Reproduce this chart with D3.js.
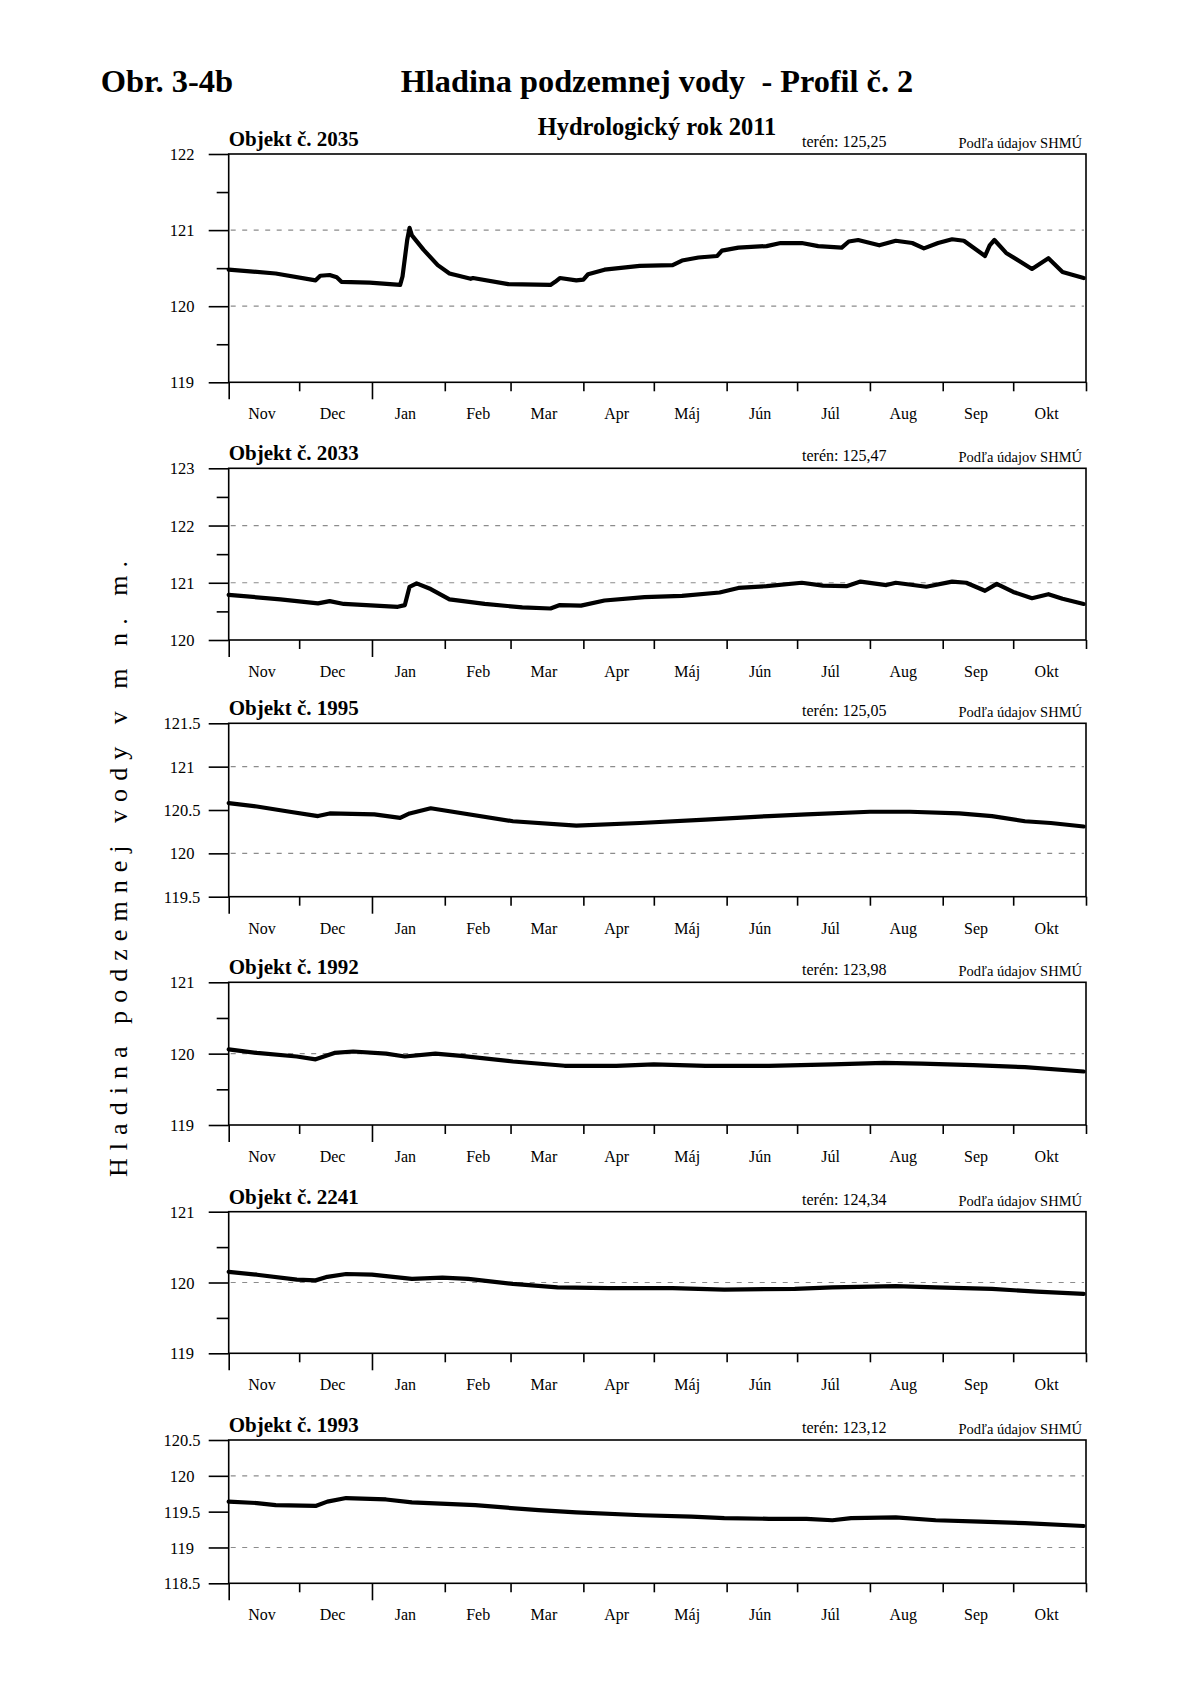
<!DOCTYPE html>
<html><head><meta charset="utf-8">
<script src="https://cdn.jsdelivr.net/npm/d3@7"></script>
<style>
body{margin:0;background:#fff}
svg text{font-family:"Liberation Serif","Times New Roman",serif;fill:#000}
</style>
</head><body>
<svg id="chart" width="1200" height="1698"></svg>
<script>
// ---------------- DATA ----------------
const monthLabels = ["Nov","Dec","Jan","Feb","Mar","Apr","Máj","Jún","Júl","Aug","Sep","Okt"];
const objectIds = ["2035","2033","1995","1992","2241","1993"];
const terenValues = ["125,25","125,47","125,05","123,98","124,34","123,12"];

const obj2035 = [
["2010-11-01",120.48],["2010-11-21",120.43],["2010-12-08",120.34],["2010-12-10",120.40],["2010-12-14",120.41],
["2010-12-17",120.38],["2010-12-19",120.32],["2010-12-31",120.31],["2011-01-13",120.28],["2011-01-14",120.39],
["2011-01-16",120.87],["2011-01-17",121.03],["2011-01-18",120.93],["2011-01-23",120.74],["2011-01-29",120.54],
["2011-02-03",120.43],["2011-02-12",120.36],["2011-02-13",120.37],["2011-02-28",120.29],["2011-03-18",120.28],
["2011-03-20",120.32],["2011-03-22",120.37],["2011-03-29",120.34],["2011-04-01",120.35],["2011-04-03",120.42],
["2011-04-10",120.48],["2011-04-25",120.53],["2011-05-09",120.54],["2011-05-13",120.60],["2011-05-20",120.64],
["2011-05-28",120.66],["2011-05-30",120.73],["2011-06-06",120.77],["2011-06-18",120.79],["2011-06-24",120.83],
["2011-07-03",120.83],["2011-07-10",120.79],["2011-07-20",120.77],["2011-07-23",120.85],["2011-07-27",120.87],
["2011-08-05",120.80],["2011-08-12",120.86],["2011-08-19",120.83],["2011-08-24",120.76],["2011-08-30",120.83],
["2011-09-05",120.88],["2011-09-10",120.86],["2011-09-19",120.66],["2011-09-21",120.80],["2011-09-23",120.87],
["2011-09-28",120.70],["2011-10-09",120.49],["2011-10-16",120.63],["2011-10-22",120.45],["2011-10-31",120.37]
];
const obj2033 = [
["2010-11-01",120.79],["2010-11-23",120.71],["2010-12-09",120.64],["2010-12-14",120.68],["2010-12-20",120.63],
["2011-01-12",120.58],["2011-01-15",120.61],["2011-01-17",120.93],["2011-01-20",120.99],["2011-01-26",120.89],
["2011-02-03",120.71],["2011-02-18",120.63],["2011-03-06",120.57],["2011-03-18",120.55],["2011-03-22",120.61],
["2011-03-31",120.60],["2011-04-10",120.69],["2011-04-27",120.75],["2011-05-13",120.77],["2011-05-29",120.83],
["2011-06-06",120.91],["2011-06-18",120.94],["2011-07-03",121.00],["2011-07-12",120.95],["2011-07-22",120.94],
["2011-07-28",121.02],["2011-08-08",120.96],["2011-08-12",121.00],["2011-08-25",120.93],["2011-09-05",121.02],
["2011-09-11",121.00],["2011-09-19",120.86],["2011-09-24",120.98],["2011-10-01",120.84],["2011-10-09",120.73],
["2011-10-16",120.80],["2011-10-22",120.72],["2011-10-31",120.63]
];
const obj1995 = [
["2010-11-01",120.58],["2010-11-13",120.54],["2010-11-27",120.48],["2010-12-09",120.43],["2010-12-14",120.46],
["2011-01-02",120.45],["2011-01-13",120.41],["2011-01-17",120.46],["2011-01-26",120.52],["2011-03-02",120.37],
["2011-03-29",120.32],["2011-04-25",120.35],["2011-05-23",120.39],["2011-06-19",120.43],["2011-07-05",120.45],
["2011-08-01",120.48],["2011-08-18",120.48],["2011-09-08",120.46],["2011-09-22",120.43],["2011-10-06",120.37],
["2011-10-17",120.35],["2011-10-31",120.31]
];
const obj1992 = [
["2010-11-01",120.06],["2010-11-13",120.01],["2010-11-30",119.96],["2010-12-08",119.92],["2010-12-16",120.01],
["2010-12-24",120.03],["2011-01-07",120.00],["2011-01-15",119.96],["2011-01-28",120.00],["2011-02-08",119.97],
["2011-03-02",119.89],["2011-03-24",119.83],["2011-04-15",119.83],["2011-05-01",119.85],["2011-05-23",119.83],
["2011-06-19",119.83],["2011-07-16",119.85],["2011-08-07",119.87],["2011-08-23",119.86],["2011-09-14",119.84],
["2011-10-06",119.81],["2011-10-31",119.75]
];
const obj2241 = [
["2010-11-01",120.15],["2010-11-13",120.11],["2010-11-30",120.04],["2010-12-08",120.03],["2010-12-13",120.08],
["2010-12-21",120.12],["2011-01-01",120.11],["2011-01-18",120.05],["2011-01-31",120.07],["2011-02-11",120.05],
["2011-03-02",119.98],["2011-03-21",119.93],["2011-04-12",119.92],["2011-05-09",119.92],["2011-05-31",119.90],
["2011-06-30",119.91],["2011-07-16",119.93],["2011-08-12",119.95],["2011-08-29",119.93],["2011-09-22",119.91],
["2011-10-11",119.87],["2011-10-31",119.84]
];
const obj1993 = [
["2010-11-01",119.64],["2010-11-13",119.62],["2010-11-21",119.59],["2010-12-08",119.58],["2010-12-13",119.64],
["2010-12-21",119.69],["2011-01-07",119.67],["2011-01-18",119.63],["2011-02-14",119.59],["2011-03-13",119.52],
["2011-03-29",119.49],["2011-04-26",119.45],["2011-05-17",119.43],["2011-05-31",119.41],["2011-06-19",119.40],
["2011-07-05",119.40],["2011-07-16",119.38],["2011-07-24",119.41],["2011-08-12",119.42],["2011-08-29",119.38],
["2011-09-17",119.36],["2011-10-06",119.34],["2011-10-31",119.30]
];
const seriesList = [obj2035, obj2033, obj1995, obj1992, obj2241, obj1993];

const yDomains = [[119,122],[120,123],[119.5,121.5],[119,121],[119,121],[118.5,120.5]];
const yMajorTicks = [
 [119,120,121,122],[120,121,122,123],[119.5,120,120.5,121,121.5],
 [119,120,121],[119,120,121],[118.5,119,119.5,120,120.5]
];
const yMinorTicks = [[119.5,120.5,121.5],[120.5,121.5,122.5],[],[119.5,120.5],[119.5,120.5],[]];
const gridValues = [[120,121],[121,122],[120,121],[120],[120],[119,120]];

// ---------------- LAYOUT ----------------
const W = 1200, H = 1698;
const plotLeft = 228.7, plotRight = 1086;
const panelBoxes = [[154,382.3],[468.3,640],[723.3,896.7],[982.3,1125],[1211.7,1353.3],[1440,1583.3]];

const svg = d3.select("#chart");
svg.append("rect").attr("width",W).attr("height",H).attr("fill","#fff");

// titles
svg.append("text").attr("x",100.7).attr("y",92).attr("font-size",32.5).attr("font-weight","bold").text("Obr. 3-4b");
svg.append("text").attr("x",400.7).attr("y",92).attr("font-size",32.3).attr("font-weight","bold")
  .style("white-space","pre").text("Hladina podzemnej vody  - Profil č. 2");
svg.append("text").attr("x",657).attr("y",135).attr("font-size",24.5).attr("font-weight","bold")
  .attr("text-anchor","middle").text("Hydrologický rok 2011");

// y-axis title
svg.append("text").attr("transform","translate(127,869) rotate(-90)")
  .attr("text-anchor","middle").attr("font-size",26)
  .attr("textLength",616).attr("lengthAdjust","spacing")
  .text("Hladina podzemnej vody v m n. m.");

const parse = d3.utcParse("%Y-%m-%d");
const x = d3.scaleUtc().domain([Date.UTC(2010,10,1), Date.UTC(2011,10,1)]).range([plotLeft, plotRight]);
const monthStarts = d3.utcMonth.range(Date.UTC(2010,10,1), Date.UTC(2011,10,2));
const monthMids = d3.utcMonth.range(Date.UTC(2010,10,1), Date.UTC(2011,10,1)).map(d => d3.utcDay.offset(d,14));
const fmtY = d3.format("~f");

seriesList.forEach((series, i) => {
  const [top, bottom] = panelBoxes[i];
  const y = d3.scaleLinear().domain(yDomains[i]).range([bottom, top]);
  const g = svg.append("g");

  // grid lines
  g.selectAll(".grid").data(gridValues[i]).join("line")
    .attr("x1", plotLeft + 2).attr("x2", plotRight - 2)
    .attr("y1", d => y(d)).attr("y2", d => y(d))
    .attr("stroke","#8c8c8c").attr("stroke-width",1.2).attr("stroke-dasharray","5,6.5");

  // data line
  const pts = series.map(([d,v]) => ({date: parse(d), v}));
  g.append("path").datum(pts)
    .attr("fill","none").attr("stroke","#000").attr("stroke-width",4.2)
    .attr("stroke-linejoin","round").attr("stroke-linecap","round")
    .attr("d", d3.line().x(d => x(d.date)).y(d => y(d.v)));

  // frame
  g.append("rect").attr("x",plotLeft).attr("y",top).attr("width",plotRight-plotLeft).attr("height",bottom-top)
    .attr("fill","none").attr("stroke","#000").attr("stroke-width",1.6);

  // y axis major
  const ya = g.append("g").attr("transform",`translate(${plotLeft},0)`)
    .call(d3.axisLeft(y).tickValues(yMajorTicks[i]).tickSize(20).tickPadding(0).tickFormat(fmtY));
  ya.select(".domain").remove();
  ya.selectAll("line").attr("stroke","#000").attr("stroke-width",1.6);
  ya.selectAll("text").attr("x",-46.7).attr("text-anchor","middle").attr("dy","0.34em")
    .attr("font-size",16.5).attr("font-family",null);

  // y axis minor
  if (yMinorTicks[i].length) {
    const ym = g.append("g").attr("transform",`translate(${plotLeft},0)`)
      .call(d3.axisLeft(y).tickValues(yMinorTicks[i]).tickSize(12).tickFormat(""));
    ym.select(".domain").remove();
    ym.selectAll("line").attr("stroke","#000").attr("stroke-width",1.6);
  }

  // x axis ticks
  const xa = g.append("g").attr("transform",`translate(0,${bottom})`)
    .call(d3.axisBottom(x).tickValues(monthStarts).tickSize(9).tickFormat(""));
  xa.select(".domain").remove();
  xa.selectAll("line").attr("stroke","#000").attr("stroke-width",1.6)
    .attr("y2", d => (d.getUTCMonth() === 0 || (d.getUTCMonth() === 10 && d.getUTCFullYear() === 2010)) ? 17 : 9);

  // x labels
  const xl = g.append("g").attr("transform",`translate(0,${bottom})`)
    .call(d3.axisBottom(x).tickValues(monthMids).tickSize(0).tickPadding(0).tickFormat((d,k) => monthLabels[k]));
  xl.select(".domain").remove();
  xl.selectAll("text").attr("y",37).attr("dy",null).attr("font-size",16).attr("font-family",null);

  // panel texts
  g.append("text").attr("x",plotLeft).attr("y",top-8).attr("font-size",21).attr("font-weight","bold")
    .text("Objekt č. " + objectIds[i]);
  g.append("text").attr("x",802).attr("y",top-7).attr("font-size",16).text("terén: " + terenValues[i]);
  g.append("text").attr("x",1082).attr("y",top-6).attr("font-size",14.5).attr("text-anchor","end")
    .text("Podľa údajov SHMÚ");
});
</script>
</body></html>
